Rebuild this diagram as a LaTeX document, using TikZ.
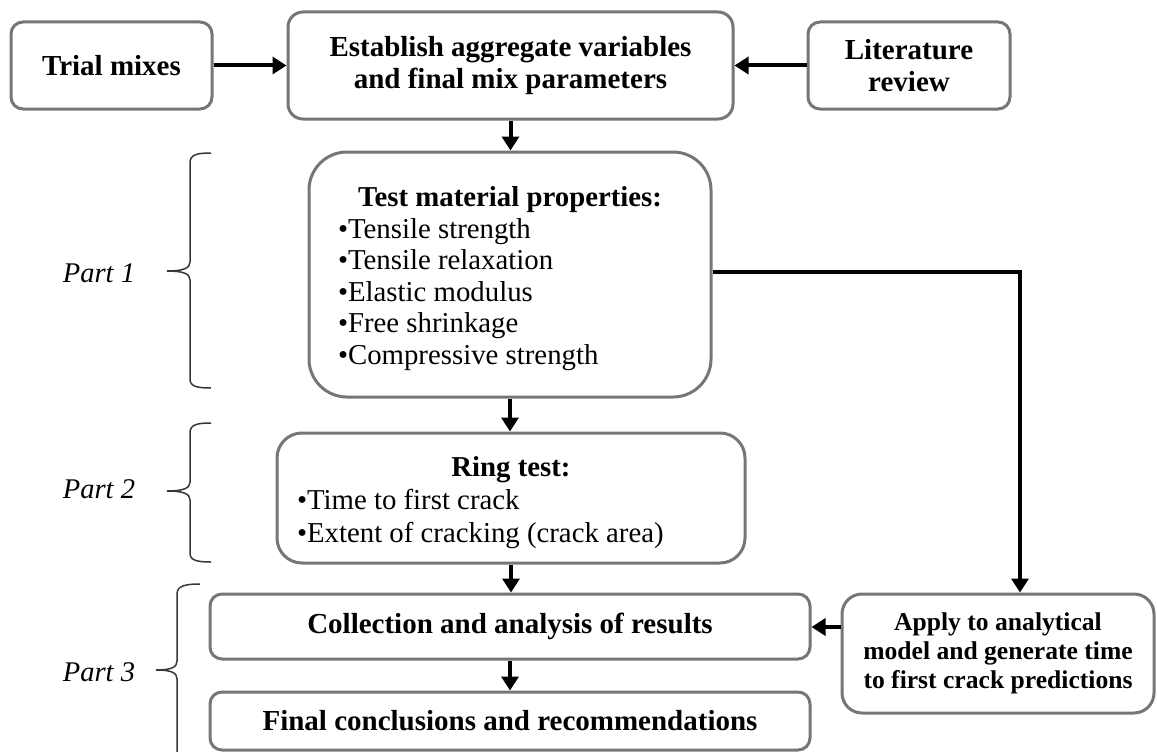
\documentclass[tikz,border=0pt]{standalone}
\usepackage{fontspec}
\setmainfont{Liberation Serif}
\usetikzlibrary{arrows.meta}
\definecolor{boxgray}{RGB}{118,118,118}
\definecolor{bracegray}{RGB}{55,55,55}
\tikzset{
  box/.style={draw=boxgray, line width=3pt, fill=white, inner sep=0pt,
    font=\fontsize{29}{32}\selectfont\bfseries, align=center},
  arr/.style={line width=4pt, -{Triangle[length=14pt,width=17pt]}},
  bracepath/.style={draw=bracegray, line width=1.5pt},
  part/.style={font=\fontsize{28.5}{32}\selectfont\itshape},
}
\begin{document}
\begin{tikzpicture}[x=1pt,y=-1pt]
\useasboundingbox (0,0) rectangle (1157,752);
\clip (0,0) rectangle (1157,752);

% boxes
\node[box, rounded corners=12pt, minimum width=201pt, minimum height=87pt] (trial) at (111.5,65.5) {Trial mixes};
\node[box, rounded corners=15pt, minimum width=445pt, minimum height=107pt] (estab) at (510.5,65.5)
  {Establish aggregate variables\\and final mix parameters};
\node[box, rounded corners=12pt, minimum width=202pt, minimum height=87pt] (lit) at (909,65.5) {Literature\\review};

\node[box, rounded corners=38pt, minimum width=402pt, minimum height=245pt, font=\fontsize{28.8}{31.5}\selectfont] (test) at (510,274.5)
  {\begin{minipage}{344pt}\vspace*{8pt}\centering\textbf{Test material properties:}\par\raggedright
   \textbullet Tensile strength\\
   \textbullet Tensile relaxation\\
   \textbullet Elastic modulus\\
   \textbullet Free shrinkage\\
   \textbullet Compressive strength\end{minipage}};

\node[box, rounded corners=25pt, minimum width=468pt, minimum height=130pt, font=\fontsize{28.8}{33}\selectfont] (ring) at (511,498)
  {\begin{minipage}{428pt}\vspace*{10pt}\centering\textbf{Ring test:}\par\raggedright
   \textbullet Time to first crack\\
   \textbullet Extent of cracking (crack area)\end{minipage}};

\node[box, rounded corners=12pt, minimum width=600pt, minimum height=65pt] (coll) at (510,626.5)
  {Collection and analysis of results};
\node[box, rounded corners=12pt, minimum width=600pt, minimum height=58pt] (final) at (510,721)
  {Final conclusions and recommendations};
\node[box, rounded corners=20pt, minimum width=312pt, minimum height=119pt, font=\fontsize{25.6}{29}\selectfont\bfseries] (apply) at (998,653.5)
  {Apply to analytical\\model and generate time\\to first crack predictions};

% connectors
\draw[arr] (trial.east) -- (estab.west);
\draw[arr] (lit.west) -- (estab.east);
\draw[arr] (estab.south) -- (estab.south |- test.north);
\draw[arr] (test.south) -- (test.south |- ring.north);
\draw[arr] (ring.south) -- (ring.south |- coll.north);
\draw[arr] (coll.south) -- (coll.south |- final.north);
\coordinate (turn) at (1020,272);
\draw[arr] (test.east |- turn) -- (turn) -- (turn |- apply.north);
\coordinate (collin) at (810,627);
\draw[arr] (apply.west |- collin) -- (coll.east |- collin);

% braces
\draw[bracepath] (211,153) .. controls (196,153) and (190,155) .. (190,163) -- (190,262)
  .. controls (190,268) and (184,271) .. (167,271)
  .. controls (184,271) and (190,274) .. (190,280) -- (190,379)
  .. controls (190,386) and (196,388) .. (211,388);
\draw[bracepath] (211,423) .. controls (196,423) and (190,425) .. (190,433) -- (190,482)
  .. controls (190,488) and (184,491) .. (167,491)
  .. controls (184,491) and (190,494) .. (190,500) -- (190,553)
  .. controls (190,560) and (196,562) .. (211,562);
\draw[bracepath] (200,584) .. controls (185,584) and (177,586) .. (177,594) -- (177,661)
  .. controls (177,667) and (172,670) .. (156,670)
  .. controls (172,670) and (177,673) .. (177,679) -- (177,760);

% part labels
\node[part] (p1) at (99,273) {Part 1};
\node[part] (p2) at (99,489) {Part 2};
\node[part] (p3) at (99,672) {Part 3};
\end{tikzpicture}
\end{document}
